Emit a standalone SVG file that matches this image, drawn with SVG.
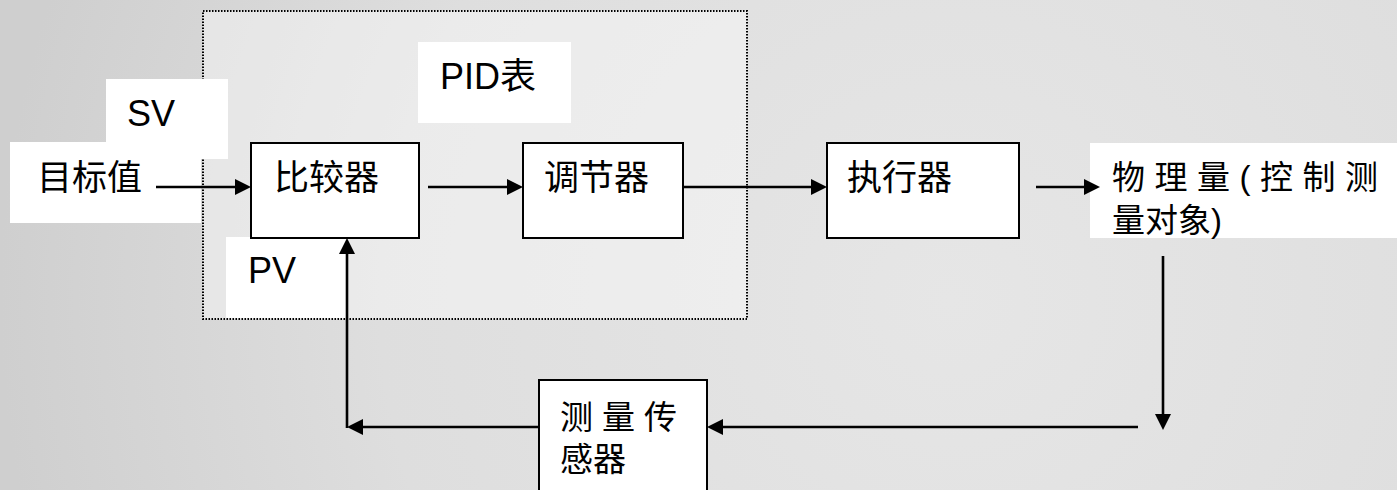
<svg xmlns="http://www.w3.org/2000/svg" width="1397" height="490" viewBox="0 0 1397 490">
  <defs>
    <radialGradient id="bg" cx="950" cy="300" r="950" gradientUnits="userSpaceOnUse">
      <stop offset="0" stop-color="#e6e6e6"/>
      <stop offset="0.6" stop-color="#dedede"/>
      <stop offset="1" stop-color="#cfcfcf"/>
    </radialGradient>
    <marker id="arr" markerUnits="userSpaceOnUse" markerWidth="17" markerHeight="17" refX="0" refY="8" orient="auto" viewBox="0 0 17 16">
      <path d="M0,0 L16,8 L0,16 z" fill="#000"/>
    </marker>
    <style>
      .box { fill: #fff; stroke: #000; stroke-width: 2; }
      .lbl { fill: #fff; stroke: none; }
      .conn { stroke: #000; stroke-width: 2.6; fill: none; }
      .cjk { font-family: "Liberation Sans", "Noto Sans CJK SC", sans-serif; font-size: 35px; fill: #000; }
      .cjk2 { font-family: "Liberation Sans", "Noto Sans CJK SC", sans-serif; font-size: 33px; fill: #000; }
      .lat { font-family: "Liberation Sans", "Noto Sans CJK SC", sans-serif; font-size: 36px; fill: #000; }
    </style>
  </defs>

  <rect x="0" y="0" width="1397" height="490" fill="url(#bg)"/>

  <g id="pid-group">
    <rect x="203" y="11" width="544" height="308" fill="#ffffff" fill-opacity="0.4" stroke="#000" stroke-width="2" stroke-dasharray="1.5 1.5"/>
  </g>

  <g id="label-sv">
    <rect class="lbl" x="106" y="79" width="122" height="80"/>
    <text class="lat" x="127" y="126">SV</text>
  </g>

  <g id="label-target">
    <rect class="lbl" x="10" y="142" width="191" height="81"/>
    <text class="cjk" x="37" y="190">目标值</text>
  </g>

  <g id="label-pid">
    <rect class="lbl" x="418" y="42" width="153" height="81"/>
    <text class="lat" x="440" y="89">PID表</text>
  </g>

  <g id="label-pv">
    <rect class="lbl" x="226" y="237" width="121" height="81"/>
    <text class="lat" x="248" y="283">PV</text>
  </g>

  <g id="comparator">
    <rect class="box" x="251" y="143" width="168" height="95"/>
    <text class="cjk" x="274" y="190">比较器</text>
  </g>

  <g id="regulator">
    <rect class="box" x="523" y="143" width="160" height="95"/>
    <text class="cjk" x="544" y="190">调节器</text>
  </g>

  <g id="actuator">
    <rect class="box" x="827" y="143" width="192" height="95"/>
    <text class="cjk" x="847" y="190">执行器</text>
  </g>

  <g id="physical">
    <rect class="lbl" x="1090" y="143" width="307" height="95"/>
    <text class="cjk2" x="1112" y="189" letter-spacing="9.5">物理量(控制测</text>
    <text class="cjk2" x="1112" y="232">量对象)</text>
  </g>

  <g id="sensor">
    <rect class="box" x="539" y="380" width="168" height="115"/>
    <text class="cjk2" x="560" y="429" letter-spacing="9">测量传</text>
    <text class="cjk2" x="560" y="471">感器</text>
  </g>

  <g id="connectors">
    <line class="conn" x1="156" y1="187" x2="235" y2="187" marker-end="url(#arr)"/>
    <line class="conn" x1="428" y1="187" x2="507" y2="187" marker-end="url(#arr)"/>
    <line class="conn" x1="683" y1="187" x2="811" y2="187" marker-end="url(#arr)"/>
    <line class="conn" x1="1036" y1="187" x2="1084" y2="187" marker-end="url(#arr)"/>
    <line class="conn" x1="1163" y1="256" x2="1163" y2="414" marker-end="url(#arr)"/>
    <line class="conn" x1="1138" y1="427" x2="723" y2="427" marker-end="url(#arr)"/>
    <line class="conn" x1="539" y1="427" x2="363" y2="427" marker-end="url(#arr)"/>
    <line class="conn" x1="347" y1="428" x2="347" y2="254" marker-end="url(#arr)"/>
  </g>
</svg>
